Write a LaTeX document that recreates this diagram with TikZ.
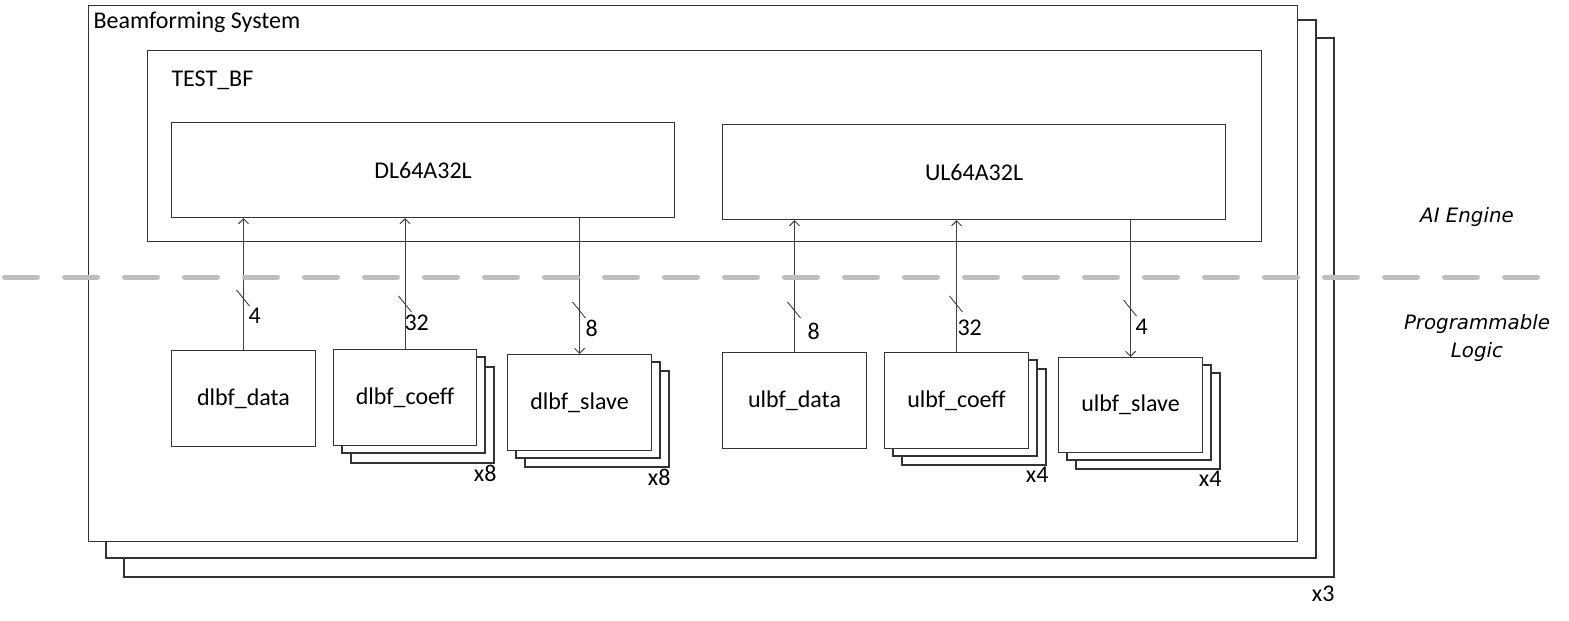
\documentclass[tikz,border=0pt]{standalone}
\usepackage{fontspec}
\setmainfont{Carlito}[Ligatures=NoCommon]
\newfontfamily\sidefont{DejaVu Sans}
\usetikzlibrary{arrows.meta}
\begin{document}
\begin{tikzpicture}[x=1pt,y=-1pt,
  line width=1.1pt,
  frame/.style={draw=black!80,fill=white},
  blk/.style={draw=black!80,fill=white,inner sep=0pt,anchor=north west,font=\fontsize{24}{28}\selectfont},
  arr/.style={draw=black!75,-{Straight Barb[length=5pt,width=10pt,line width=1pt]}},
  tick/.style={draw=black!75,line width=0.9pt},
  num/.style={font=\fontsize{24}{28}\selectfont,inner sep=0pt},
  side/.style={font=\sidefont\itshape\fontsize{19.8}{28}\selectfont,align=center,inner sep=0pt}]
\useasboundingbox (0,0) rectangle (1569,621);

% stacked system frames (x3)
\draw[frame] (124,38) rectangle (1334,577);
\draw[frame] (106,20) rectangle (1316,558);
\node[blk,minimum width=1209pt,minimum height=536pt] (sys) at (88,5) {};
\node[anchor=west,num] at (93,22) {Beamforming System};
\node[num,anchor=north east] at (1335,585) {x3};

% AI Engine graph
\node[blk,minimum width=1114pt,minimum height=191pt] (tb) at (147,50) {};
\node[anchor=west,num] at (171,80) {TEST\_BF};
\node[blk,minimum width=503pt,minimum height=95pt] (dl) at (171,122) {DL64A32L};
\node[blk,minimum width=503pt,minimum height=95pt] (ul) at (722,124) {UL64A32L};

% programmable logic kernels
\node[blk,minimum width=144pt,minimum height=96pt] (dd) at (171,350) {dlbf\_data};
\draw[frame] (351,367) rectangle (494,463);
\draw[frame] (342,357) rectangle (485,453);
\node[blk,minimum width=143pt,minimum height=96pt] (dc) at (333,349) {dlbf\_coeff};
\node[num,anchor=north east] at (497,465) {x8};
\draw[frame] (525,371) rectangle (669,467);
\draw[frame] (516,362) rectangle (660,458);
\node[blk,minimum width=144pt,minimum height=96pt] (ds) at (507,354) {dlbf\_slave};
\node[num,anchor=north east] at (671,469) {x8};

\node[blk,minimum width=144pt,minimum height=96pt] (ud) at (722,352) {ulbf\_data};
\draw[frame] (902,369) rectangle (1046,465);
\draw[frame] (893,360) rectangle (1037,456);
\node[blk,minimum width=144pt,minimum height=96pt] (uc) at (884,352) {ulbf\_coeff};
\node[num,anchor=north east] at (1049,467) {x4};
\draw[frame] (1076,373) rectangle (1220,469);
\draw[frame] (1067,365) rectangle (1211,460);
\node[blk,minimum width=144pt,minimum height=95pt] (us) at (1058,357) {ulbf\_slave};
\node[num,anchor=north east] at (1222,471) {x4};

% stream connections with bus widths
\draw[arr] (dd.north) -- (dd.north |- dl.south);
\draw[arr] (dc.north) -- (dc.north |- dl.south);
\draw[arr] (dl.south -| ds.north) -- (ds.north);
\draw[arr] (ud.north) -- (ud.north |- ul.south);
\draw[arr] (uc.north) -- (uc.north |- ul.south);
\draw[arr] (ul.south -| us.north) -- (us.north);

\coordinate (s1) at (243,298);
\coordinate (s2) at (405,304);
\coordinate (s3) at (579,310);
\coordinate (s4) at (794,310);
\coordinate (s5) at (956,304);
\coordinate (s6) at (1130,308);
\foreach \s in {s1,s2,s3,s4,s5,s6}
  \draw[tick] (\s) ++(-6.5,-8) -- ++(13,16);
\node[num,anchor=west] at (248,316) {4};
\node[num,anchor=west] at (404,323) {32};
\node[num,anchor=west] at (585,328) {8};
\node[num,anchor=west] at (807,331) {8};
\node[num,anchor=west] at (957,328) {32};
\node[num,anchor=west] at (1135,327) {4};

% side labels
\node[side] (aie) at (1467,217) {AI Engine};
\node[side] (pl) at (1477,338) {Programmable\\Logic};

% AIE / PL boundary
\draw[black!25,line width=5pt,line cap=round,dash pattern=on 33pt off 27pt] (4.5,277) -- (1540,277);
\end{tikzpicture}
\end{document}
